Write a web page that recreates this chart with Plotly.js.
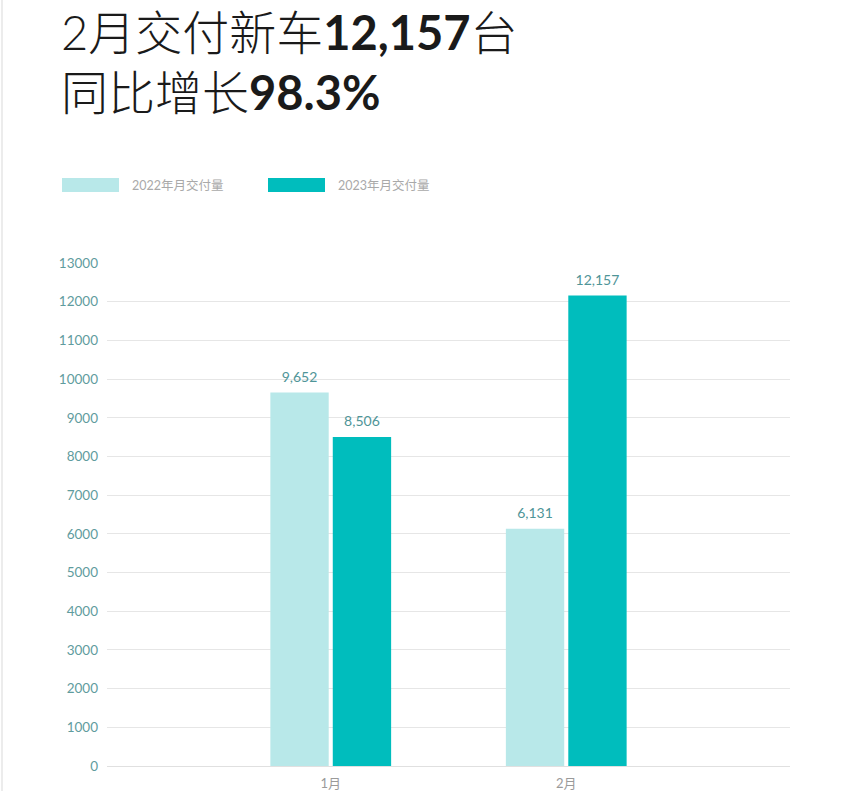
<!DOCTYPE html>
<html>
<head>
<meta charset="utf-8">
<script src="https://cdn.plot.ly/plotly-3.0.1.min.js"></script>
<style>
  html, body { margin: 0; padding: 0; background: #fff; }
  #chart { width: 852px; height: 791px; }
</style>
</head>
<body>
<div id="chart"></div>
<script>
var months = ['1月', '2月'];
var names = ['2022年月交付量', '2023年月交付量'];
var deliveries2022 = [9652, 6131];
var deliveries2023 = [8506, 12157];
var colors = ['#b8e8e9', '#00bdbd'];
var titleLines = ['2月交付新车<b>12,157</b>台', '同比增长<b>98.3%</b>'];

var fam = 'Lato, "Noto Sans CJK SC", sans-serif';
var series = [deliveries2022, deliveries2023];

var data = [];
series.forEach(function (vals, i) {
  data.push({
    x: months, y: vals, type: 'bar', name: names[i],
    marker: {color: colors[i]}, hoverinfo: 'skip'
  });
});
// value labels: text-only scatter in group mode so they sit over their bars,
// an invisible marker keeps them a little above the bar top
series.forEach(function (vals, i) {
  data.push({
    x: months, y: vals, type: 'scatter', mode: 'markers+text',
    offsetgroup: String(i), alignmentgroup: 'a',
    marker: {size: 10, opacity: 0},
    texttemplate: '%{y:,}', textposition: 'top center',
    textfont: {family: fam, size: 14, color: '#4f9598'},
    cliponaxis: false, hoverinfo: 'skip'
  });
});

// legend drawn by hand so the swatches can be wide bars
var shapes = [];
var annotations = [];
var legendX = [62, 268];
function px(x) { return (x - 107) / 683; }
function py(y) { return (766 - y) / 503; }
names.forEach(function (n, i) {
  shapes.push({
    type: 'rect', xref: 'paper', yref: 'paper',
    x0: px(legendX[i]), x1: px(legendX[i] + 57),
    y0: py(178), y1: py(192),
    fillcolor: colors[i], line: {width: 0}, layer: 'above'
  });
  annotations.push({
    text: n, xref: 'paper', yref: 'paper', showarrow: false,
    x: px(legendX[i] + 68), y: py(185),
    xanchor: 'left', yanchor: 'middle',
    font: {family: fam, size: 12.5, color: '#a9a9a9'}
  });
});
titleLines.forEach(function (t, i) {
  annotations.push({
    text: t, xref: 'paper', yref: 'paper', showarrow: false,
    x: px(59), y: py(32 + i * 60),
    xanchor: 'left', yanchor: 'middle',
    font: {family: fam, size: 47, color: '#1a1a1a', weight: 300}
  });
});
// faint page edge at the left
shapes.push({
  type: 'line', xref: 'paper', yref: 'paper',
  x0: px(2), x1: px(2), y0: -0.05, y1: 1.6,
  line: {color: '#ececec', width: 2}
});

var layout = {
  width: 852,
  height: 791,
  paper_bgcolor: '#fff',
  plot_bgcolor: '#fff',
  margin: {t: 263, b: 25, l: 107, r: 62},
  showlegend: false,
  barmode: 'group',
  scattermode: 'group',
  bargap: 0.47,
  bargroupgap: 0.065,
  scattergap: 0.47,
  xaxis: {
    type: 'category',
    range: [-0.95, 1.95],
    showgrid: false,
    zeroline: false,
    showline: false,
    ticks: '',
    ticklabelstandoff: 8,
    tickfont: {family: fam, size: 13, color: '#9a9a9a'},
    fixedrange: true
  },
  yaxis: {
    range: [0, 13000],
    dtick: 1000,
    tickformat: 'd',
    showgrid: true,
    gridcolor: '#e6e6e6',
    gridwidth: 1,
    zeroline: true,
    zerolinecolor: '#e0e0e0',
    showline: false,
    ticks: '',
    ticklabelstandoff: 8,
    tickfont: {family: fam, size: 13.5, color: '#5f9c9e'},
    fixedrange: true
  },
  shapes: shapes,
  annotations: annotations
};

Plotly.newPlot('chart', data, layout, {displayModeBar: false, staticPlot: true});
</script>
</body>
</html>
